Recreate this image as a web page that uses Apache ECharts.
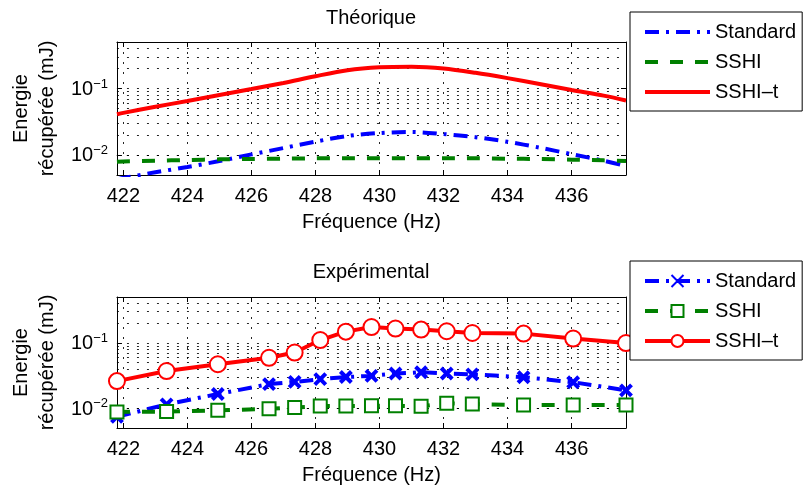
<!DOCTYPE html>
<html><head><meta charset="utf-8">
<script src="https://cdn.jsdelivr.net/npm/echarts@6/dist/echarts.min.js"></script>
<style>html,body{margin:0;padding:0;background:#fff}#c{width:806px;height:486px}</style>
</head><body><div id="c"></div>
<script>
// ---- data ----
const theoFreq = [421.8, 422, 423, 424, 425, 426, 427, 428, 429, 430, 431, 432, 433, 434, 435, 436, 437, 437.7];
const theoStandard = [0.0043, 0.0045, 0.0055, 0.0066, 0.0081, 0.0102, 0.0127, 0.0159, 0.0193, 0.0214, 0.0222, 0.0206, 0.0185, 0.0158, 0.0129, 0.0103, 0.0082, 0.0068];
const theoSSHI = [0.0079, 0.0080, 0.0082, 0.0084, 0.0086, 0.0087, 0.0088, 0.0089, 0.0089, 0.0089, 0.0089, 0.0089, 0.0089, 0.0088, 0.0087, 0.0085, 0.0083, 0.0081];
const theoSSHIt = [0.041, 0.043, 0.053, 0.065, 0.080, 0.098, 0.121, 0.153, 0.188, 0.208, 0.212, 0.200, 0.172, 0.143, 0.117, 0.095, 0.078, 0.066];

const expFreq = [421.8, 423.35, 424.95, 426.55, 427.35, 428.15, 428.95, 429.75, 430.5, 431.3, 432.1, 432.9, 434.5, 436.05, 437.7];
const expStandard = [0.0074, 0.0115, 0.0165, 0.0234, 0.0253, 0.0278, 0.0300, 0.0312, 0.0340, 0.0355, 0.0340, 0.0330, 0.0298, 0.0250, 0.0188];
const expSSHI = [0.0088, 0.0089, 0.0093, 0.0098, 0.0103, 0.0108, 0.0108, 0.0109, 0.0109, 0.0107, 0.0119, 0.0116, 0.0112, 0.0112, 0.0112];
const expSSHIt = [0.026, 0.037, 0.047, 0.059, 0.071, 0.110, 0.148, 0.174, 0.165, 0.159, 0.150, 0.141, 0.138, 0.116, 0.099];

const seriesNames = ['Standard', 'SSHI', 'SSHI–t'];
const titles = ['Théorique', 'Expérimental'];
const xName = 'Fréquence (Hz)';
const yName = 'Energie\nrécupérée (mJ)';
const xTicks = [422, 424, 426, 428, 430, 432, 434, 436];
const minorGrid = [0.006, 0.007, 0.008, 0.009, 0.02, 0.03, 0.04, 0.05, 0.06, 0.07, 0.08, 0.09, 0.2, 0.3, 0.4];
const xMin = 421.8, xMax = 437.7, yMin = 0.005, yMax = 0.5;

// ---- chart ----
const F = '"Liberation Sans", Arial, Helvetica, sans-serif';
const BLUE = '#0000ff', GREEN = '#008000', RED = '#ff0000';
const dotted = { type: [2, 8], color: '#000', width: 1, opacity: 0.85 };
const zip = (xs, ys) => xs.map((x, i) => [x, ys[i]]);
const gridTops = [42, 297];

function xAxes(g) {
  return [
    { type: 'value', gridIndex: g, min: xMin, max: xMax, position: 'bottom',
      axisLine: { show: true, lineStyle: { color: '#000', width: 1 } },
      axisTick: { show: true, inside: true, length: 5, lineStyle: { color: '#000' }, customValues: xTicks },
      axisLabel: { fontSize: 20, fontFamily: F, color: '#000', margin: 11, customValues: xTicks },
      splitLine: { show: true, lineStyle: dotted },
      name: xName, nameLocation: 'middle', nameGap: 37,
      nameTextStyle: { fontSize: 20, fontFamily: F, color: '#000' } },
    { type: 'value', gridIndex: g, min: xMin, max: xMax, position: 'top',
      axisLine: { show: true, lineStyle: { color: '#000', width: 1 } },
      axisTick: { show: true, inside: true, length: 5, lineStyle: { color: '#000' }, customValues: xTicks },
      axisLabel: { show: false, customValues: xTicks }, splitLine: { show: false } }
  ];
}
function yAxes(g) {
  return [
    { type: 'log', logBase: 10, gridIndex: g, min: yMin, max: yMax, position: 'left',
      axisLine: { show: true, lineStyle: { color: '#000', width: 1 } },
      axisTick: { show: true, inside: true, length: 5, lineStyle: { color: '#000' } },
      axisLabel: {
        margin: 9, showMinLabel: false, showMaxLabel: false,
        formatter: function (v) {
          const e = Math.round(Math.log10(v));
          return '{b|10}{s|' + (e < 0 ? '−' : '') + Math.abs(e) + '}';
        },
        rich: {
          b: { fontSize: 20, fontFamily: F, color: '#000', lineHeight: 22, verticalAlign: 'bottom' },
          s: { fontSize: 13, fontFamily: F, color: '#000', lineHeight: 13, verticalAlign: 'top', padding: [0, 0, 12, 0] }
        }
      },
      splitLine: { show: true, lineStyle: dotted },
      name: yName, nameLocation: 'middle', nameRotate: 90, nameGap: 53,
      nameTextStyle: { fontSize: 20, fontFamily: F, color: '#000', lineHeight: 26, align: 'center' } },
    { type: 'log', logBase: 10, gridIndex: g, min: yMin, max: yMax, position: 'right',
      axisLine: { show: true, lineStyle: { color: '#000', width: 1 } },
      axisTick: { show: true, inside: true, length: 5, lineStyle: { color: '#000' } },
      axisLabel: { show: false }, splitLine: { show: false } }
  ];
}

const minorMarkLine = {
  silent: true, symbol: 'none', z: 1, animation: false,
  label: { show: false },
  lineStyle: dotted,
  emphasis: { disabled: true },
  data: minorGrid.map(v => ({ yAxis: v }))
};

const crossPath = 'path://M0,0L10,10M10,0L0,10';
const legendBase = {
  orient: 'vertical', left: 630, padding: [10, 6, 9, 13],
  itemWidth: 65, itemHeight: 15, itemGap: 10, itemTextGap: 8, selectedMode: false,
  borderColor: '#000', borderWidth: 1, backgroundColor: '#fff', borderRadius: 0,
  lineStyle: { width: 4 },
  textStyle: { fontSize: 20, fontFamily: F, color: '#000', lineHeight: 20 }
};

const option = {
  animation: false,
  backgroundColor: '#fff',
  title: [
    { text: titles[0], left: 371, top: 8, textAlign: 'center', padding: 0,
      textStyle: { fontSize: 20, fontWeight: 'normal', fontFamily: F, color: '#000' } },
    { text: titles[1], left: 371, top: 262, textAlign: 'center', padding: 0,
      textStyle: { fontSize: 20, fontWeight: 'normal', fontFamily: F, color: '#000' } }
  ],
  legend: [
    Object.assign({}, legendBase, { data: seriesNames, top: 12,
      itemStyle: { color: 'rgba(0,0,0,0)', borderColor: 'rgba(0,0,0,0)', borderWidth: 0 } }),
    Object.assign({}, legendBase, { data: seriesNames.map(n => n + ' (exp)'), top: 261,
      formatter: n => n.replace(' (exp)', '') })
  ],
  grid: [
    { left: 116, right: 180, top: gridTops[0], height: 133, containLabel: false },
    { left: 116, right: 180, top: gridTops[1], height: 132, containLabel: false }
  ],
  xAxis: [...xAxes(0), ...xAxes(1)],
  yAxis: [...yAxes(0), ...yAxes(1)],
  series: [
    { name: seriesNames[0], type: 'line', xAxisIndex: 0, yAxisIndex: 0, data: zip(theoFreq, theoStandard),
      smooth: 0.3, symbol: 'none', color: BLUE, z: 3,
      lineStyle: { color: BLUE, width: 4, type: [14, 7, 3, 7] }, markLine: minorMarkLine },
    { name: seriesNames[1], type: 'line', xAxisIndex: 0, yAxisIndex: 0, data: zip(theoFreq, theoSSHI),
      smooth: 0.3, symbol: 'none', color: GREEN, z: 3,
      lineStyle: { color: GREEN, width: 4, type: [13, 12] } },
    { name: seriesNames[2], type: 'line', xAxisIndex: 0, yAxisIndex: 0, data: zip(theoFreq, theoSSHIt),
      smooth: 0.3, symbol: 'none', color: RED, z: 3,
      lineStyle: { color: RED, width: 4 } },

    { name: seriesNames[0] + ' (exp)', type: 'line', xAxisIndex: 2, yAxisIndex: 2, data: zip(expFreq, expStandard),
      symbol: crossPath, symbolSize: 11, color: BLUE, z: 3,
      itemStyle: { color: BLUE, borderColor: BLUE, borderWidth: 4 },
      lineStyle: { color: BLUE, width: 4, type: [14, 7, 3, 7] }, markLine: minorMarkLine },
    { name: seriesNames[1] + ' (exp)', type: 'line', xAxisIndex: 2, yAxisIndex: 2, data: zip(expFreq, expSSHI),
      symbol: 'emptyRect', symbolSize: 13, color: GREEN, z: 3,
      itemStyle: { color: GREEN, borderColor: GREEN, borderWidth: 3 },
      lineStyle: { color: GREEN, width: 4, type: [13, 12] } },
    { name: seriesNames[2] + ' (exp)', type: 'line', xAxisIndex: 2, yAxisIndex: 2, data: zip(expFreq, expSSHIt),
      symbol: 'emptyCircle', symbolSize: 16, color: RED, z: 3,
      itemStyle: { color: RED, borderColor: RED, borderWidth: 3 },
      lineStyle: { color: RED, width: 4 } }
  ]
};

const chart = echarts.init(document.getElementById('c'), null, { renderer: 'canvas' });
chart.setOption(option);
</script>
</body></html>
